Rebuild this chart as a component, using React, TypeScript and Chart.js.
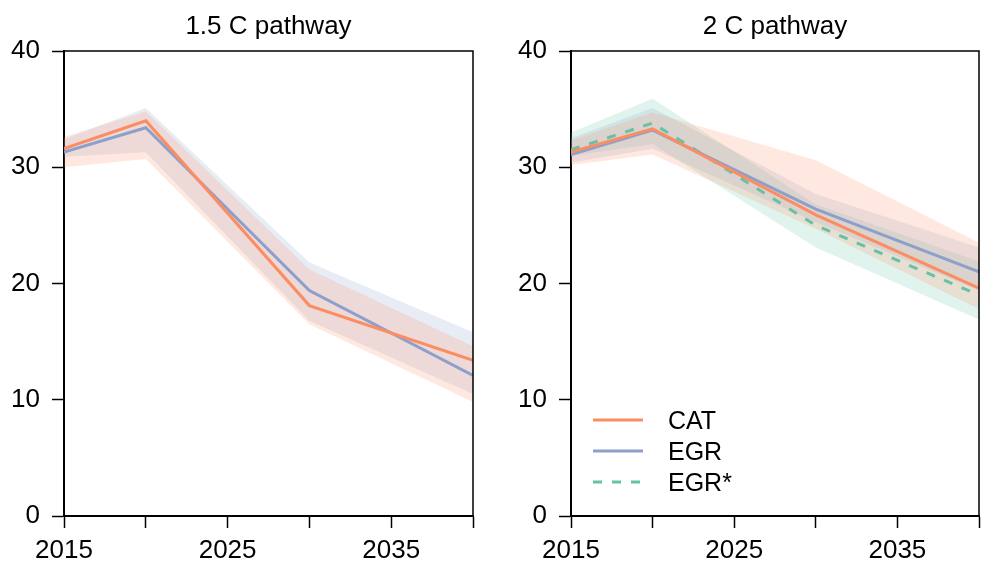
import React, { useEffect, useRef } from "react";
import { Chart, registerables } from "chart.js";

Chart.register(...registerables);

// ---------- data ----------
const years = [2015, 2020, 2030, 2040];
const xTickLabels = [2015, 2025, 2035];
const panelTitles = ["1.5 C pathway", "2 C pathway"];
const legendLabels = ["CAT", "EGR", "EGR*"];

// 1.5 C pathway
const cat15 = [31.6, 34.0, 18.1, 13.4];
const cat15Upper = [32.6, 34.8, 21.2, 14.6];
const cat15Lower = [30.0, 30.7, 16.5, 9.8];
const egr15 = [31.3, 33.4, 19.4, 12.1];
const egr15Upper = [32.4, 35.1, 21.8, 15.8];
const egr15Lower = [30.9, 31.3, 16.8, 10.5];

// 2 C pathway
const cat2 = [31.3, 33.3, 25.9, 19.6];
const cat2Upper = [32.3, 34.7, 30.6, 23.5];
const cat2Lower = [30.2, 31.1, 24.7, 17.8];
const egr2 = [31.1, 33.2, 26.4, 21.0];
const egr2Upper = [32.5, 35.1, 27.7, 23.1];
const egr2Lower = [30.4, 31.6, 25.3, 19.4];
const egrStar2 = [31.5, 33.8, 25.0, 19.0];
const egrStar2Upper = [33.0, 35.9, 26.8, 21.9];
const egrStar2Lower = [31.0, 32.0, 23.1, 16.9];

// ---------- styles ----------
const FONT = "'Liberation Sans', Arial, Helvetica, sans-serif";
const COLORS = { CAT: "#fc8d62", EGR: "#8da0cb", "EGR*": "#66c2a5" };
const BANDS = {
  CAT: "rgba(252,141,98,0.2)",
  EGR: "rgba(141,160,203,0.2)",
  "EGR*": "rgba(102,194,165,0.2)",
};
const DASHES = { CAT: [], EGR: [], "EGR*": [9, 10] };

type Series = { name: string; mid: number[]; upper: number[]; lower: number[] };

const pts = (vals: number[]) => vals.map((v, i) => ({ x: years[i], y: v }));

function buildDatasets(series: Series[]) {
  const lines: any[] = [];
  series.forEach((s) => {
    lines.push({
      label: s.name,
      data: pts(s.mid),
      borderColor: COLORS[s.name],
      borderWidth: 3,
      borderDash: DASHES[s.name],
      pointRadius: 0,
      fill: false,
      tension: 0,
      order: 0,
    });
  });
  const all: any[] = [...lines];
  series.forEach((s) => {
    const upIdx = all.length;
    all.push({
      label: s.name + " upper",
      data: pts(s.upper),
      borderWidth: 0,
      borderColor: "rgba(0,0,0,0)",
      pointRadius: 0,
      fill: false,
      order: 1,
    });
    all.push({
      label: s.name + " lower",
      data: pts(s.lower),
      borderWidth: 0,
      borderColor: "rgba(0,0,0,0)",
      backgroundColor: BANDS[s.name],
      pointRadius: 0,
      fill: upIdx,
      order: 1,
    });
  });
  return all;
}

const boxPlugin = {
  id: "panelBox",
  afterDatasetsDraw(chart: any) {
    const { ctx, chartArea: a } = chart;
    ctx.save();
    ctx.strokeStyle = "#000";
    ctx.lineWidth = 1.5;
    ctx.beginPath();
    ctx.moveTo(a.left, a.top);
    ctx.lineTo(a.right, a.top);
    ctx.lineTo(a.right, a.bottom);
    ctx.stroke();
    ctx.restore();
  },
};

const titlePlugin = {
  id: "panelTitle",
  afterDraw(chart: any, _args: any, opts: any) {
    if (!opts || !opts.text) return;
    const { ctx, chartArea: a } = chart;
    ctx.save();
    ctx.fillStyle = "#000";
    ctx.font = `26px ${FONT}`;
    ctx.textAlign = "center";
    ctx.textBaseline = "alphabetic";
    ctx.fillText(opts.text, (a.left + a.right) / 2, 34);
    ctx.restore();
  },
};

const legendPlugin = {
  id: "panelLegend",
  afterDraw(chart: any, _args: any, opts: any) {
    if (!opts || !opts.show) return;
    const { ctx, chartArea: a } = chart;
    ctx.save();
    legendLabels.forEach((name, i) => {
      const y = a.bottom - 96 + i * 31;
      ctx.strokeStyle = COLORS[name];
      ctx.lineWidth = 3;
      ctx.setLineDash(DASHES[name]);
      ctx.beginPath();
      ctx.moveTo(a.left + 22, y);
      ctx.lineTo(a.left + 72, y);
      ctx.stroke();
      ctx.setLineDash([]);
      ctx.fillStyle = "#000";
      ctx.font = `25px ${FONT}`;
      ctx.textAlign = "left";
      ctx.textBaseline = "alphabetic";
      ctx.fillText(name, a.left + 97, y + 9);
    });
    ctx.restore();
  },
};

function Panel(props: { left: number; width: number; rightPad: number; title: string; series: Series[]; legend: boolean }) {
  const ref = useRef<HTMLCanvasElement | null>(null);
  useEffect(() => {
    if (!ref.current) return;
    const chart = new Chart(ref.current, {
      type: "line",
      data: { datasets: buildDatasets(props.series) },
      plugins: [boxPlugin, titlePlugin, legendPlugin],
      options: {
        animation: false,
        responsive: false,
        maintainAspectRatio: false,
        layout: { padding: { top: 51, right: props.rightPad, left: 0, bottom: 0 } },
        plugins: {
          legend: { display: false },
          tooltip: { enabled: false },
          title: { display: false },
          panelTitle: { text: props.title },
          panelLegend: { show: props.legend },
        } as any,
        scales: {
          x: {
            type: "linear",
            min: 2015,
            max: 2040,
            afterFit: (s: any) => {
              s.height = 51;
            },
            ticks: {
              stepSize: 5,
              autoSkip: false,
              maxRotation: 0,
              padding: 7,
              color: "#000",
              font: { family: FONT, size: 26 },
              callback: (v: any) => (xTickLabels.includes(Number(v)) ? String(v) : ""),
            },
            grid: {
              display: true,
              drawOnChartArea: false,
              drawTicks: true,
              tickLength: 12,
              tickWidth: 1.5,
              tickColor: "#000",
              color: "#000",
            },
            border: { display: true, color: "#000", width: 2 },
          },
          y: {
            type: "linear",
            min: 0,
            max: 40,
            afterFit: (s: any) => {
              s.width = 64;
            },
            ticks: {
              stepSize: 10,
              padding: 12,
              color: "#000",
              font: { family: FONT, size: 26 },
            },
            grid: {
              display: true,
              drawOnChartArea: false,
              drawTicks: true,
              tickLength: 12,
              tickWidth: 1.5,
              tickColor: "#000",
              color: "#000",
            },
            border: { display: true, color: "#000", width: 2 },
          },
        },
      } as any,
    });
    return () => chart.destroy();
  }, []);
  return (
    <canvas
      ref={ref}
      width={props.width}
      height={567}
      style={{ position: "absolute", left: props.left, top: 0, width: props.width, height: 567 }}
    />
  );
}

export default function App() {
  useEffect(() => {
    document.body.style.margin = "0";
  }, []);
  const s15: Series[] = [
    { name: "CAT", mid: cat15, upper: cat15Upper, lower: cat15Lower },
    { name: "EGR", mid: egr15, upper: egr15Upper, lower: egr15Lower },
  ];
  const s2: Series[] = [
    { name: "CAT", mid: cat2, upper: cat2Upper, lower: cat2Lower },
    { name: "EGR", mid: egr2, upper: egr2Upper, lower: egr2Lower },
    { name: "EGR*", mid: egrStar2, upper: egrStar2Upper, lower: egrStar2Lower },
  ];
  return (
    <div style={{ position: "relative", width: 986, height: 567, background: "#fff", overflow: "hidden" }}>
      <Panel left={0} width={507} rightPad={34} title={panelTitles[0]} series={s15} legend={false} />
      <Panel left={507} width={479} rightPad={6} title={panelTitles[1]} series={s2} legend={true} />
    </div>
  );
}
